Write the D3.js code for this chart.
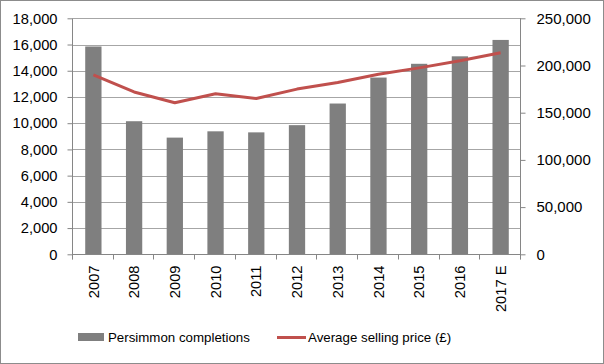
<!DOCTYPE html>
<html>
<head>
<meta charset="utf-8">
<script src="https://cdn.jsdelivr.net/npm/d3@7"></script>
<style>
  body { margin: 0; background: #fff; }
  svg { display: block; font-family: "Liberation Sans", Arial, sans-serif; }
  .tick text { fill: #000; }
</style>
</head>
<body>
<div id="chart-area"><svg></svg></div>
<script>
const years = ["2007", "2008", "2009", "2010", "2011", "2012", "2013", "2014", "2015", "2016", "2017 E"];
const completions = [15850, 10150, 8900, 9380, 9300, 9850, 11500, 13480, 14530, 15100, 16350];
const avgPrice = [190000, 172000, 160500, 170000, 165000, 175000, 182000, 190800, 197500, 205000, 213600];
const leftTicks = [0, 2000, 4000, 6000, 8000, 10000, 12000, 14000, 16000, 18000];
const rightTicks = [0, 50000, 100000, 150000, 200000, 250000];

const chartSize = { width: 604, height: 364 };
const plot = { left: 73, right: 521, top: 18.3, bottom: 254.3 };

const svg = d3.select("#chart-area svg")
  .attr("width", chartSize.width)
  .attr("height", chartSize.height);

svg.append("rect")
  .attr("x", 0.5).attr("y", 0.5)
  .attr("width", chartSize.width - 1).attr("height", chartSize.height - 1)
  .attr("fill", "#fff").attr("stroke", "#8c8c8c");

const x = d3.scaleBand()
  .domain(years)
  .range([plot.left, plot.right])
  .paddingInner(0.6)
  .paddingOuter(0.3);

const yLeft = d3.scaleLinear().domain([0, 18000]).range([plot.bottom, plot.top]);
const yRight = d3.scaleLinear().domain([0, 250000]).range([plot.bottom, plot.top]);

// gridlines
svg.append("g")
  .selectAll("line")
  .data(leftTicks.slice(1))
  .join("line")
  .attr("x1", plot.left).attr("x2", plot.right)
  .attr("y1", d => Math.round(yLeft(d)) + 0.5)
  .attr("y2", d => Math.round(yLeft(d)) + 0.5)
  .attr("stroke", "#a6a6a6");

// bars
svg.append("g")
  .selectAll("rect")
  .data(completions)
  .join("rect")
  .attr("x", (d, i) => x(years[i]))
  .attr("width", x.bandwidth())
  .attr("y", d => yLeft(d))
  .attr("height", d => yLeft(0) - yLeft(d))
  .attr("fill", "#7f7f7f");

// line
const line = d3.line()
  .x((d, i) => x(years[i]) + x.bandwidth() / 2)
  .y(d => yRight(d));

svg.append("path")
  .datum(avgPrice)
  .attr("d", line)
  .attr("fill", "none")
  .attr("stroke", "#c0504d")
  .attr("stroke-width", 3)
  .attr("stroke-linejoin", "round");

const fmt = d3.format(",");
const fontSize = "14.7px";

// left axis
const leftAxis = svg.append("g")
  .attr("transform", `translate(${plot.left - 0.5},0)`)
  .call(d3.axisLeft(yLeft).tickValues(leftTicks).tickFormat(fmt).tickSize(5).tickPadding(10));
leftAxis.select(".domain").attr("stroke", "#868686").attr("d", `M0,${plot.top}V${plot.bottom + 5}`);
leftAxis.selectAll(".tick line").attr("stroke", "#868686");
leftAxis.selectAll(".tick text").style("font-size", fontSize).attr("font-family", null);

// right axis
const rightAxis = svg.append("g")
  .attr("transform", `translate(${plot.right - 0.5},0)`)
  .call(d3.axisRight(yRight).tickValues(rightTicks).tickFormat(fmt).tickSize(5).tickPadding(11));
rightAxis.select(".domain").attr("stroke", "#868686").attr("d", `M0,${plot.top}V${plot.bottom + 5}`);
rightAxis.selectAll(".tick line").attr("stroke", "#868686");
rightAxis.selectAll(".tick text").style("font-size", "15px").attr("font-family", null);

// bottom axis
const bottomAxis = svg.append("g")
  .attr("transform", `translate(0,${Math.round(plot.bottom) + 0.5})`)
  .call(d3.axisBottom(x).tickSize(0).tickPadding(0));
bottomAxis.select(".domain").attr("stroke", "#868686").attr("d", `M${plot.left},0H${plot.right}`);
bottomAxis.selectAll(".tick text")
  .style("font-size", fontSize)
  .attr("font-family", null)
  .attr("text-anchor", "end")
  .attr("dy", "0.35em")
  .attr("transform", "translate(0,11) rotate(-90)")
  .attr("y", 0).attr("x", 0);

const step = x.step();
bottomAxis.append("g")
  .selectAll("line")
  .data(d3.range(years.length + 1))
  .join("line")
  .attr("x1", i => Math.round(plot.left + i * step) - 0.5)
  .attr("x2", i => Math.round(plot.left + i * step) - 0.5)
  .attr("y1", 0).attr("y2", 5)
  .attr("stroke", "#868686");

// legend
const legend = svg.append("g").style("font-size", "13.3px");
legend.append("rect")
  .attr("x", 78).attr("y", 333).attr("width", 26).attr("height", 8)
  .attr("fill", "#7f7f7f");
legend.append("text")
  .attr("x", 108).attr("y", 342)
  .text("Persimmon completions");
legend.append("line")
  .attr("x1", 277).attr("x2", 306).attr("y1", 337.5).attr("y2", 337.5)
  .attr("stroke", "#c0504d").attr("stroke-width", 3);
legend.append("text")
  .attr("x", 308).attr("y", 342)
  .text("Average selling price (£)");
</script>
</body>
</html>
